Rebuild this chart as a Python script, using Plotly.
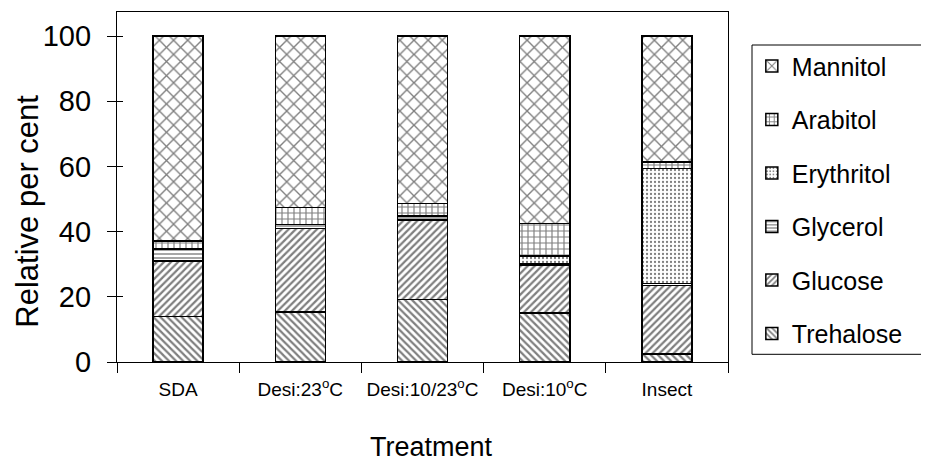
import plotly.graph_objects as go

treatments = ["SDA", "Desi:23<sup>o</sup>C", "Desi:10/23<sup>o</sup>C", "Desi:10<sup>o</sup>C", "Insect"]

trehalose = [14.0, 15.4, 19.2, 15.1, 2.4]
glucose = [17.0, 25.6, 24.4, 14.6, 21.1]
glycerol = [3.6, 1.2, 1.2, 0.5, 0.6]
erythritol = [0.0, 0.0, 0.0, 2.3, 35.3]
arabitol = [2.6, 5.2, 3.9, 10.0, 1.9]
mannitol = [62.8, 52.6, 51.3, 57.5, 38.7]

series = [
    ("Trehalose", trehalose, "\\", 5, 0.45, 6),
    ("Glucose", glucose, "/", 5, 0.45, 5),
    ("Glycerol", glycerol, "-", 4, 0.35, 4),
    ("Erythritol", erythritol, ".", 4, 0.25, 3),
    ("Arabitol", arabitol, "+", 6, 0.35, 2),
    ("Mannitol", mannitol, "x", 10, 0.25, 1),
]

fig = go.Figure()
for name, vals, shape, size, sol, rank in series:
    fig.add_trace(go.Bar(
        x=treatments, y=vals, name=name, legendgroup=name, legendrank=rank,
        marker=dict(color="white", line=dict(color="black", width=1.5),
                    pattern=dict(shape=shape, fgcolor="black", bgcolor="white",
                                 size=size, solidity=sol, fillmode="overlay")),
    ))

fig.add_trace(go.Scatter(x=[treatments[0]], y=[0], yaxis="y2", mode="markers",
                         marker=dict(opacity=0), showlegend=False, hoverinfo="skip"))

font = "Liberation Sans, Arial, sans-serif"
fig.update_layout(
    barmode="stack",
    bargap=0.59,
    width=929, height=464,
    margin=dict(l=109, r=209, t=4, b=110),
    paper_bgcolor="white", plot_bgcolor="white",
    font=dict(family=font, color="black"),
    legend=dict(traceorder="grouped", tracegroupgap=18,
                x=1.039, xanchor="left", y=0.911, yanchor="top",
                borderwidth=0, bgcolor="rgba(0,0,0,0)",
                font=dict(size=25, family=font)),
    xaxis=dict(showline=True, linecolor="black", linewidth=1.2, mirror=True,
               ticks="outside", tickson="boundaries", ticklen=10, tickcolor="black",
               tickfont=dict(size=19), showgrid=False, ticklabelstandoff=10),
    yaxis=dict(range=[0, 107.4], tickvals=[0, 20, 40, 60, 80, 100],
               showline=True, linecolor="black", linewidth=1.2, mirror=True,
               ticks="outside", ticklen=9, tickcolor="black",
               tickfont=dict(size=29), showgrid=False, zeroline=False,
               ticklabelstandoff=10),
    yaxis2=dict(overlaying="y", side="left", range=[0, 107.4],
                tickvals=[0, 20, 40, 60, 80, 100], ticks="inside", ticklen=6,
                tickcolor="black", showticklabels=False, showgrid=False,
                zeroline=False, showline=False),
    shapes=[dict(type="rect", xref="paper", yref="paper",
                 x0=1.0393, x1=1.3175, y0=0.022, y1=0.9057,
                 line=dict(color="black", width=1), layer="below")],
    annotations=[
        dict(text="Relative per cent", textangle=-90, xref="paper", yref="paper",
             x=-0.147, y=0.43, showarrow=False, font=dict(size=31),
             xanchor="center", yanchor="middle"),
        dict(text="Treatment", xref="paper", yref="paper",
             x=0.514, y=-0.243, showarrow=False, font=dict(size=27),
             xanchor="center", yanchor="middle"),
    ],
)

fig.write_html("out.html")
